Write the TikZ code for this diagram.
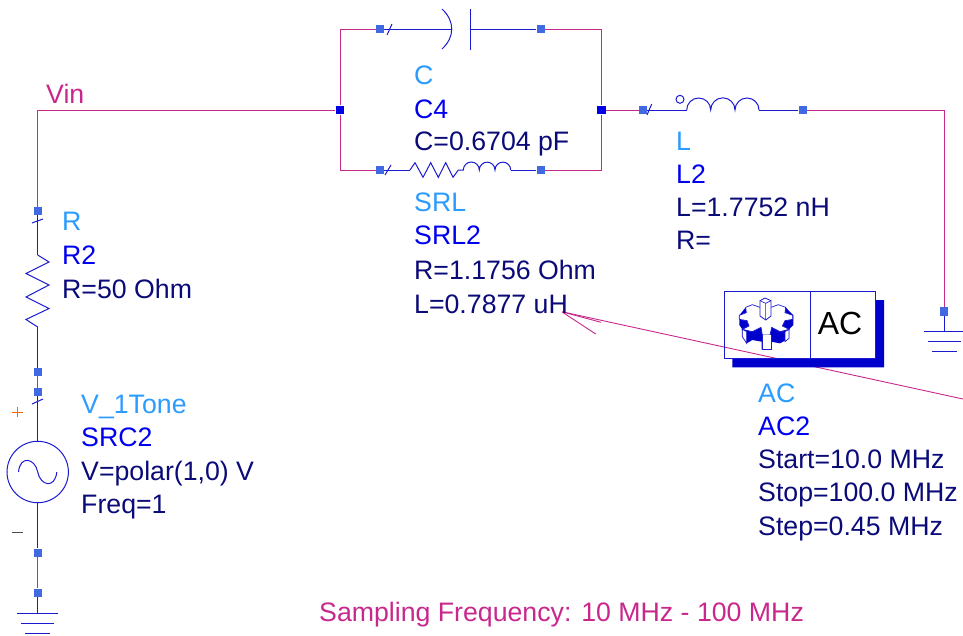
\documentclass[tikz,border=0pt]{standalone}
\usepackage{fontspec}
\setmainfont{Liberation Sans}
\usepackage{tikz}
\usetikzlibrary{positioning}
\definecolor{wirepink}{HTML}{C8288C}
\definecolor{symblue}{HTML}{1A1AD0}
\definecolor{pinblue}{HTML}{4169E1}
\definecolor{typeblue}{HTML}{2B9BFF}
\definecolor{namenavy}{HTML}{0000F0}
\definecolor{valnavy}{HTML}{0A0A78}
\definecolor{blockblue}{HTML}{0000CC}
\tikzset{
  pin/.style={rectangle,fill=pinblue,inner sep=0pt,minimum size=8.4pt},
  junction/.style={rectangle,fill=blue!90!black,inner sep=0pt,minimum size=8.8pt},
  wire/.style={wirepink,line width=.9pt},
  sym/.style={symblue,line width=1pt},
  lbl/.style={anchor=base west,inner sep=0pt,font=\fontsize{26.7}{30}\selectfont},
  typelbl/.style={lbl,text=typeblue},
  namelbl/.style={lbl,text=namenavy},
  vallbl/.style={lbl,text=valnavy}
}

\begin{document}
\begin{tikzpicture}[x=1pt,y=-1pt]
  \useasboundingbox (0,0) rectangle (963,635);

  % corners and junctions
  \coordinate (VinCorner) at (37.7,110);
  \coordinate (TopLeft)   at (340,29);
  \coordinate (TopRight)  at (601.7,29);
  \coordinate (BotLeft)   at (340,170);
  \coordinate (BotRight)  at (601.7,170);
  \coordinate (OutCorner) at (944,110);
  \node[junction] (JL) at (340,110) {};
  \node[junction] (JR) at (601.7,110) {};

  % pins
  \node[pin] (R2a)   at (37.7,211) {};
  \node[pin] (R2b)   at (37.7,372) {};
  \node[pin] (SRCa)  at (37.7,392) {};
  \node[pin] (SRCb)  at (37.7,552.7) {};
  \node[pin] (GNDa)  at (37.7,592.7) {};
  \node[pin] (C4a)   at (380,29) {};
  \node[pin] (C4b)   at (540.7,29) {};
  \node[pin] (SRLa)  at (380,170) {};
  \node[pin] (SRLb)  at (540.7,170) {};
  \node[pin] (L2a)   at (643,110) {};
  \node[pin] (L2b)   at (802.7,110) {};
  \node[pin] (GNDb)  at (944,311.3) {};

  % pink wires
  \path[wire] (R2a) edge (VinCorner)
              (VinCorner) edge (JL)
              (JL) edge (TopLeft) edge (BotLeft)
              (TopLeft) edge (C4a)
              (BotLeft) edge (SRLa)
              (JR) edge (TopRight) edge (BotRight) edge (L2a)
              (TopRight) edge (C4b)
              (BotRight) edge (SRLb)
              (R2b) edge (SRCa)
              (SRCb) edge (GNDa)
              (L2b) edge (OutCorner)
              (OutCorner) edge (GNDb);

  % capacitor
  \coordinate (C4p) at (451.7,29);
  \coordinate (C4q) at (470,29);
  \path[sym] (C4a) edge (C4p) (C4q) edge (C4b);
  \draw[sym] (442,9) .. controls (455,21) and (455,37) .. (442,49);
  \draw[sym] (470,9) -- (470,50);
  \draw[sym] (387,35) -- (392,24);

  % series R-L
  \coordinate (SRLp) at (410,170);
  \coordinate (SRLq) at (510.7,170);
  \path[sym] (SRLa) edge (SRLp) (SRLq) edge (SRLb);
  \draw[sym] (385,175) -- (391,165);
  \draw[sym] (SRLp) -- (415,162.7) -- (423,177.3) -- (430.7,162.7) -- (438.3,177.3)
        -- (445.7,162.7) -- (453,177.3) -- (458.3,170) -- (463.3,170)
        arc (180:360:8) arc (180:360:7.85) arc (180:360:7.85);

  % inductor
  \coordinate (L2p) at (686.7,110);
  \coordinate (L2q) at (759,110);
  \path[sym] (L2a) edge (L2p) (L2q) edge (L2b);
  \draw[sym] (647,115) -- (651.7,104);
  \draw[sym] (680,99.3) circle (4);
  \draw[sym] (L2p) arc (180:360:12) arc (180:360:12.15) arc (180:360:12);

  % resistor
  \coordinate (R2p) at (37.7,255);
  \coordinate (R2q) at (37.7,327);
  \path[sym] (R2a) edge (R2p) (R2q) edge (R2b);
  \draw[sym] (32,223) -- (43,219);
  \draw[sym] (R2p) -- (49,262) -- (26,273.5) -- (49,285) -- (26,297) -- (49,308.5)
        -- (26,319.5) -- (R2q);

  % source
  \node[circle,draw=symblue,line width=1pt,inner sep=0pt,minimum size=61.4pt] (SRC) at (37.7,472) {};
  \path[sym] (SRCa) edge (SRC) (SRC) edge (SRCb);
  \draw[sym] (32,404) -- (43,399);
  \draw[sym] (18.5,472) .. controls (20,455) and (35,458) .. (37.7,472)
        .. controls (40.5,486) and (55,489) .. (56.8,472);
  \draw[orange!80!red,line width=.9pt] (12,412) -- (22.5,412) (17.3,407) -- (17.3,417);
  \draw[gray!60!black,line width=.9pt] (12,532.5) -- (23,532.5);

  % grounds
  \path[sym] (GNDa) edge (37.7,613) (GNDb) edge (944,331);
  \draw[sym] (17,613) -- (58,613) (21,623) -- (54,623) (25,633) -- (50,633);
  \draw[sym] (924,331) -- (963,331) (927.7,341) -- (960.7,341) (931.7,351) -- (956.7,351);

  % marker line
  \node[inner sep=0pt] (Mark) at (561.7,311.7) {};
  \coordinate (MarkEnd) at (963,399);
  \coordinate (BarbA) at (595.7,334);
  \coordinate (BarbB) at (601,322.3);
  \path[wirepink,line width=.9pt] (Mark) edge (MarkEnd) edge (BarbA) edge (BarbB);

  % AC block
  \fill[blockblue] (875.7,300) -- (884,300) -- (884,367.3) -- (732.3,367.3)
        -- (732.3,358.7) -- (875.7,358.7) -- cycle;
  \node[rectangle,draw=symblue,line width=1pt,minimum width=151.7pt,minimum height=67.4pt,inner sep=0pt] (ACbox) at (800,325) {};
  \draw[symblue,line width=1pt] (810.3,291.3) -- (810.3,358.7);
  \node[inner sep=0pt,text=black,font=\fontsize{32}{32}\selectfont] (ACname) at (840,323) {AC};

  % gear
  \begin{scope}[shift={(725,290)},x=.3333pt,y=-.3333pt]
    \fill[blockblue] (43,76) -- (43,105) -- (52,118) -- (52,140) -- (65,160) -- (82,150)
        -- (110,155) -- (110,178) -- (138,178) -- (138,155) -- (165,160) -- (192,145)
        -- (192,118) -- (205,105) -- (205,76) -- (182,52) -- (62,52) -- cycle;
    \draw[symblue,line width=.7pt,fill=white] (62,52) -- (82,44) -- (105,52) -- (138,52)
        -- (160,44) -- (182,52) -- (180,68) -- (203,76) -- (203,88) -- (180,92) -- (172,108)
        -- (192,118) -- (165,125) -- (140,112) -- (135,135) -- (112,135) -- (108,112)
        -- (82,125) -- (52,118) -- (72,108) -- (66,92) -- (43,88) -- (43,76) -- (64,68) -- cycle;
    \draw[symblue,line width=.7pt,fill=white] (112,135) -- (112,178) -- (138,178) -- (138,135);
    \draw[symblue,line width=.7pt,fill=white] (52,118) -- (52,140) -- (65,160) -- (65,125) -- cycle;
    \draw[symblue,line width=.7pt,fill=white] (180,125) -- (192,118) -- (192,145) -- (180,155) -- cycle;
    \draw[symblue,line width=.8pt,fill=white] (105,32) -- (120,24) -- (138,32) -- (138,78)
        -- (122,90) -- (105,78) -- cycle;
    \draw[symblue,line width=.6pt] (105,32) -- (122,40) -- (138,32) (122,40) -- (122,90);
  \end{scope}

  % labels
  \node[lbl,text=wirepink] (VinLbl) at (46,103.5) {Vin};

  \node[typelbl] (C4type) at (414,84) {C};
  \node[namelbl] (C4name) at (414,118) {C4};
  \node[vallbl]  (C4val)  at (414,150) {C=0.6704 pF};

  \node[typelbl] (SRLtype) at (414,211) {SRL};
  \node[namelbl] (SRLname) at (414,244) {SRL2};
  \node[vallbl]  (SRLr)    at (414,279) {R=1.1756 Ohm};
  \node[vallbl]  (SRLl)    at (414,313) {L=0.7877 uH};

  \node[typelbl] (L2type) at (676,150) {L};
  \node[namelbl] (L2name) at (676,183) {L2};
  \node[vallbl]  (L2l)    at (676,216) {L=1.7752 nH};
  \node[vallbl]  (L2r)    at (676,249) {R=};

  \node[typelbl] (R2type) at (62,230) {R};
  \node[namelbl] (R2name) at (62,264) {R2};
  \node[vallbl]  (R2val)  at (62,298) {R=50 Ohm};

  \node[typelbl] (SRCtype) at (81,413) {V\_1Tone};
  \node[namelbl] (SRCname) at (81,446) {SRC2};
  \node[vallbl]  (SRCv)    at (81,480) {V=polar(1,0) V};
  \node[vallbl]  (SRCf)    at (81,513) {Freq=1};

  \node[typelbl] (ACtype)  at (758,402) {AC};
  \node[namelbl] (AC2name) at (758,435) {AC2};
  \node[vallbl]  (ACstart) at (758,468) {Start=10.0 MHz};
  \node[vallbl]  (ACstop)  at (758,501) {Stop=100.0 MHz};
  \node[vallbl]  (ACstep)  at (758,535) {Step=0.45 MHz};

  \node[lbl,text=wirepink] (SampLbl) at (319,621) {Sampling Frequency: 10 MHz - 100 MHz};
\end{tikzpicture}
\end{document}
